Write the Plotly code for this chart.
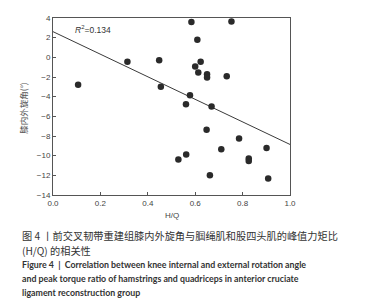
import plotly.graph_objects as go

# Data
hq = [0.106, 0.314, 0.448, 0.455, 0.578, 0.561, 0.584, 0.609, 0.600, 0.613,
      0.753, 0.623, 0.650, 0.650, 0.733, 0.669, 0.648, 0.785, 0.710, 0.901,
      0.826, 0.826, 0.562, 0.529, 0.662, 0.908]
angle = [-2.80, -0.44, -0.30, -3.00, -3.86, -4.77, 3.59, 1.80, -0.94, -1.55,
         3.65, -0.44, -1.73, -2.06, -1.93, -5.00, -7.37, -8.25, -9.34, -9.22,
         -10.30, -10.55, -9.88, -10.39, -11.98, -12.32]
fit_x = [0.0, 1.0]
fit_y = [2.61, -8.86]
x_ticks = [0.0, 0.2, 0.4, 0.6, 0.8, 1.0]
y_ticks = [4, 2, 0, -2, -4, -6, -8, -10, -12, -14]
r2_text = "<i>R</i><sup>2</sup>=0.134"
x_title = "H/Q"
y_title = "膝内外旋角(°)"
caption_cn = ["图 4 丨前交叉韧带重建组膝内外旋角与腘绳肌和股四头肌的峰值力矩比",
              "(H/Q) 的相关性"]
caption_en = ["Figure 4  |  Correlation between knee internal and external rotation angle",
              "and peak torque ratio of hamstrings and quadriceps in anterior cruciate",
              "ligament reconstruction group"]

W, H = 380, 300
L, R, T, B = 45, 98, 10, 112.5
ph = H - T - B

def py(p):
    return (H - B - p) / ph

fig = go.Figure()
fig.add_trace(go.Scatter(x=fit_x, y=fit_y, mode="lines",
                         line=dict(color="#3a3a3a", width=1), showlegend=False))
fig.add_trace(go.Scatter(x=hq, y=angle, mode="markers",
                         marker=dict(color="#2a2a2a", size=6.5), showlegend=False))

tickfont = dict(family="Liberation Sans, Arial, sans-serif", size=8, color="#444")
fig.update_xaxes(range=[0, 1], tickvals=x_ticks, ticktext=[f"{v:.1f}" for v in x_ticks],
                 ticks="inside", ticklen=3, tickcolor="#555", showline=True,
                 linecolor="#555", linewidth=1, mirror=True, showgrid=False,
                 zeroline=False, tickfont=tickfont)
fig.update_yaxes(range=[-14, 4], tickvals=y_ticks, ticktext=[str(v).replace("-", "−") for v in y_ticks],
                 ticks="inside", ticklen=3, tickcolor="#555", showline=True,
                 linecolor="#555", linewidth=1, mirror=True, showgrid=False,
                 zeroline=False, tickfont=tickfont)

ann = []
ann.append(dict(x=0.085, y=2.81, xref="x", yref="y", text=r2_text, showarrow=False,
                xanchor="left", yanchor="middle",
                font=dict(family="Liberation Sans, Arial, sans-serif", size=8.5, color="#333")))
ann.append(dict(x=0.5, y=py(208), xref="paper", yref="paper", text=x_title, showarrow=False,
                xanchor="center", yanchor="middle",
                font=dict(family="Liberation Sans, Arial, sans-serif", size=8, color="#444")))
ann.append(dict(x=(15 - L) / (W - L - R), y=py(100), xref="paper", yref="paper", text=y_title,
                showarrow=False, textangle=-90, xanchor="center", yanchor="middle",
                font=dict(family="Noto Sans CJK SC, sans-serif", size=8.5, color="#555")))
for i, t in enumerate(caption_cn):
    ann.append(dict(x=(12 - L) / (W - L - R), y=py(228 + 15 * i), xref="paper", yref="paper",
                    text=t, showarrow=False, xanchor="left", yanchor="middle",
                    font=dict(family="Noto Sans CJK SC, sans-serif", size=10.2, color="#333")))
for i, t in enumerate(caption_en):
    ann.append(dict(x=(12 - L) / (W - L - R), y=py(257 + 14 * i), xref="paper", yref="paper",
                    text="<b>" + t + "</b>", showarrow=False, xanchor="left", yanchor="middle",
                    font=dict(family="Lato, sans-serif", size=8.8, color="#333")))

fig.update_layout(width=W, height=H, margin=dict(l=L, r=R, t=T, b=B, autoexpand=False),
                  plot_bgcolor="white", paper_bgcolor="white", annotations=ann)
fig.write_html("out.html")
